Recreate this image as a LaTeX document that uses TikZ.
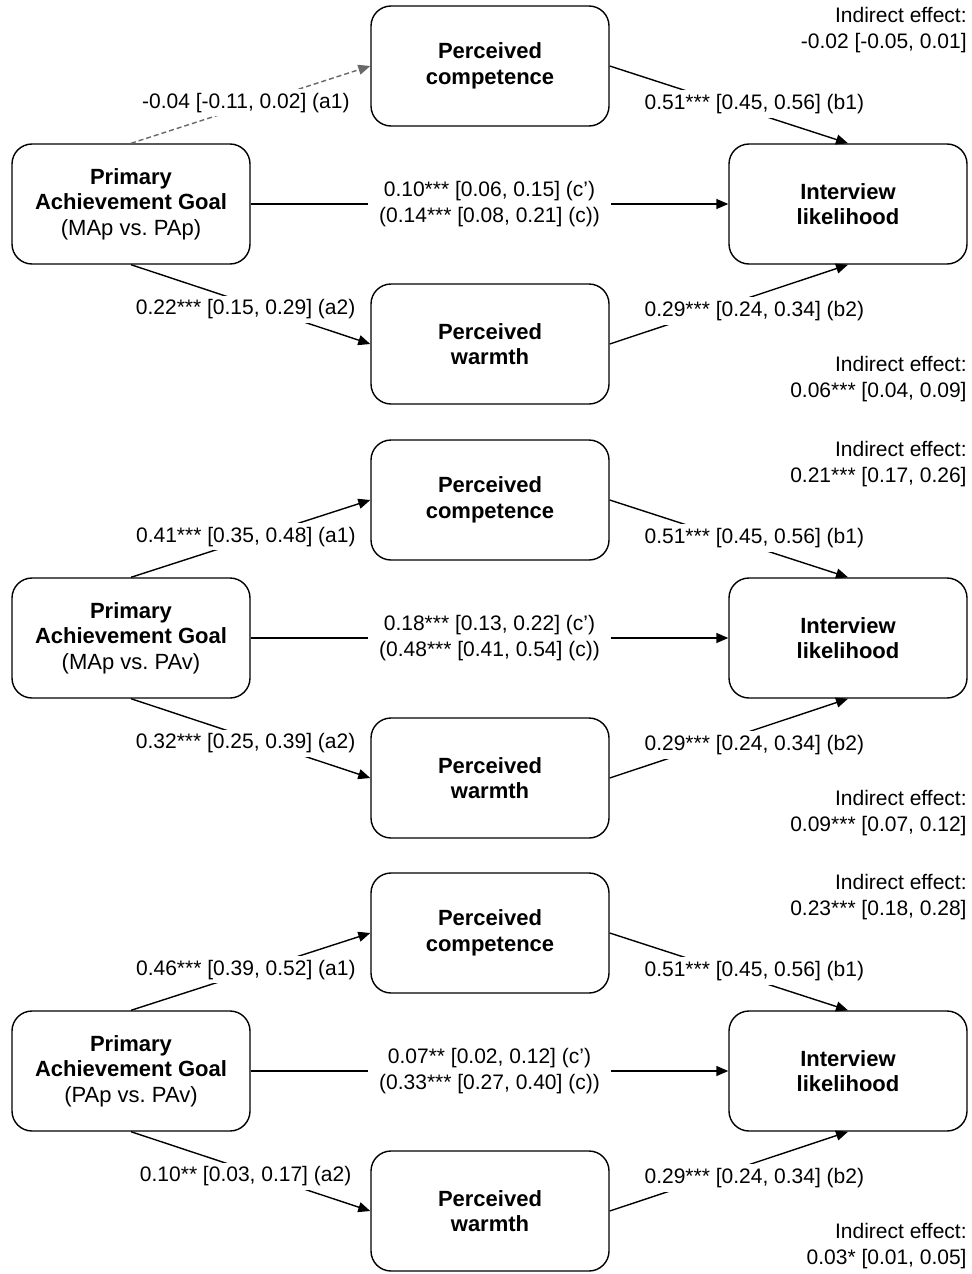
\documentclass[tikz,border=0pt]{standalone}
\usepackage{fontspec}
\setmainfont{Liberation Sans}
\usetikzlibrary{arrows.meta}
\definecolor{nsgray}{RGB}{105,105,105}
\frenchspacing

\begin{document}
\begin{tikzpicture}[x=0.5pt, y=-0.5pt,
    varbox/.style={draw, rounded corners=10pt, line width=0.7pt, minimum width=119pt, minimum height=60pt, align=center, font=\fontsize{11}{12.8}\selectfont},
    effect/.style={-{Triangle[length=6pt,width=5pt]}, line width=0.7pt},
    nseffect/.style={effect, draw=nsgray, dash pattern=on 2.5pt off 1.5pt},
    coef/.style={fill=white, inner xsep=5.5pt, inner ysep=2pt, align=center, font=\fontsize{10.5}{13}\selectfont},
    indirect/.style={anchor=east, align=right, inner sep=0pt, font=\fontsize{10.5}{12.8}\selectfont}]

  \useasboundingbox (0,0) rectangle (971,1274);

  % MAp vs. PAp
  \node[varbox] (goalA) at (131,204) {\textbf{Primary}\\\textbf{Achievement Goal}\\(MAp vs. PAp)};
  \node[varbox] (compA) at (490,66) {\textbf{Perceived}\\\textbf{competence}};
  \node[varbox] (warmA) at (490,344) {\textbf{Perceived}\\\textbf{warmth}};
  \node[varbox] (interA) at (848,204) {\textbf{Interview}\\\textbf{likelihood}};

  \draw[nseffect] (goalA.north) -- node[coef, pos=0.48, yshift=1.8pt] {-0.04 [-0.11, 0.02] (a1)} (compA.west);
  \draw[effect] (compA.east) -- node[coef, pos=0.607, yshift=4.4pt] {0.51*** [0.45, 0.56] (b1)} (interA.north);
  \draw[effect] (goalA.east) -- node[coef, minimum width=120pt] {0.10*** [0.06, 0.15] (c')\\(0.14*** [0.08, 0.21] (c))} (interA.west);
  \draw[effect] (goalA.south) -- node[coef, pos=0.479, yshift=-3.4pt] {0.22*** [0.15, 0.29] (a2)} (warmA.west);
  \draw[effect] (warmA.east) -- node[coef, pos=0.607, yshift=-7.5pt] {0.29*** [0.24, 0.34] (b2)} (interA.south);

  \node[indirect] (indA1) at (967,30) {Indirect effect:\\-0.02 [-0.05, 0.01]};
  \node[indirect] (indA2) at (967,379) {Indirect effect:\\0.06*** [0.04, 0.09]};

  % MAp vs. PAv
  \begin{scope}[yshift=-217pt]
    \node[varbox] (goalB) at (131,204) {\textbf{Primary}\\\textbf{Achievement Goal}\\(MAp vs. PAv)};
    \node[varbox] (compB) at (490,66) {\textbf{Perceived}\\\textbf{competence}};
    \node[varbox] (warmB) at (490,344) {\textbf{Perceived}\\\textbf{warmth}};
    \node[varbox] (interB) at (848,204) {\textbf{Interview}\\\textbf{likelihood}};

    \draw[effect] (goalB.north) -- node[coef, pos=0.48, yshift=1.8pt] {0.41*** [0.35, 0.48] (a1)} (compB.west);
    \draw[effect] (compB.east) -- node[coef, pos=0.607, yshift=4.4pt] {0.51*** [0.45, 0.56] (b1)} (interB.north);
    \draw[effect] (goalB.east) -- node[coef, minimum width=120pt] {0.18*** [0.13, 0.22] (c')\\(0.48*** [0.41, 0.54] (c))} (interB.west);
    \draw[effect] (goalB.south) -- node[coef, pos=0.479, yshift=-3.4pt] {0.32*** [0.25, 0.39] (a2)} (warmB.west);
    \draw[effect] (warmB.east) -- node[coef, pos=0.607, yshift=-7.5pt] {0.29*** [0.24, 0.34] (b2)} (interB.south);

    \node[indirect] (indB1) at (967,30) {Indirect effect:\\0.21*** [0.17, 0.26]};
    \node[indirect] (indB2) at (967,379) {Indirect effect:\\0.09*** [0.07, 0.12]};
  \end{scope}

  % PAp vs. PAv
  \begin{scope}[yshift=-433.5pt]
    \node[varbox] (goalC) at (131,204) {\textbf{Primary}\\\textbf{Achievement Goal}\\(PAp vs. PAv)};
    \node[varbox] (compC) at (490,66) {\textbf{Perceived}\\\textbf{competence}};
    \node[varbox] (warmC) at (490,344) {\textbf{Perceived}\\\textbf{warmth}};
    \node[varbox] (interC) at (848,204) {\textbf{Interview}\\\textbf{likelihood}};

    \draw[effect] (goalC.north) -- node[coef, pos=0.48, yshift=1.8pt] {0.46*** [0.39, 0.52] (a1)} (compC.west);
    \draw[effect] (compC.east) -- node[coef, pos=0.607, yshift=4.4pt] {0.51*** [0.45, 0.56] (b1)} (interC.north);
    \draw[effect] (goalC.east) -- node[coef, minimum width=120pt] {0.07** [0.02, 0.12] (c')\\(0.33*** [0.27, 0.40] (c))} (interC.west);
    \draw[effect] (goalC.south) -- node[coef, pos=0.479, yshift=-3.4pt] {0.10** [0.03, 0.17] (a2)} (warmC.west);
    \draw[effect] (warmC.east) -- node[coef, pos=0.607, yshift=-7.5pt] {0.29*** [0.24, 0.34] (b2)} (interC.south);

    \node[indirect] (indC1) at (967,30) {Indirect effect:\\0.23*** [0.18, 0.28]};
    \node[indirect] (indC2) at (967,379) {Indirect effect:\\0.03* [0.01, 0.05]};
  \end{scope}
\end{tikzpicture}
\end{document}
